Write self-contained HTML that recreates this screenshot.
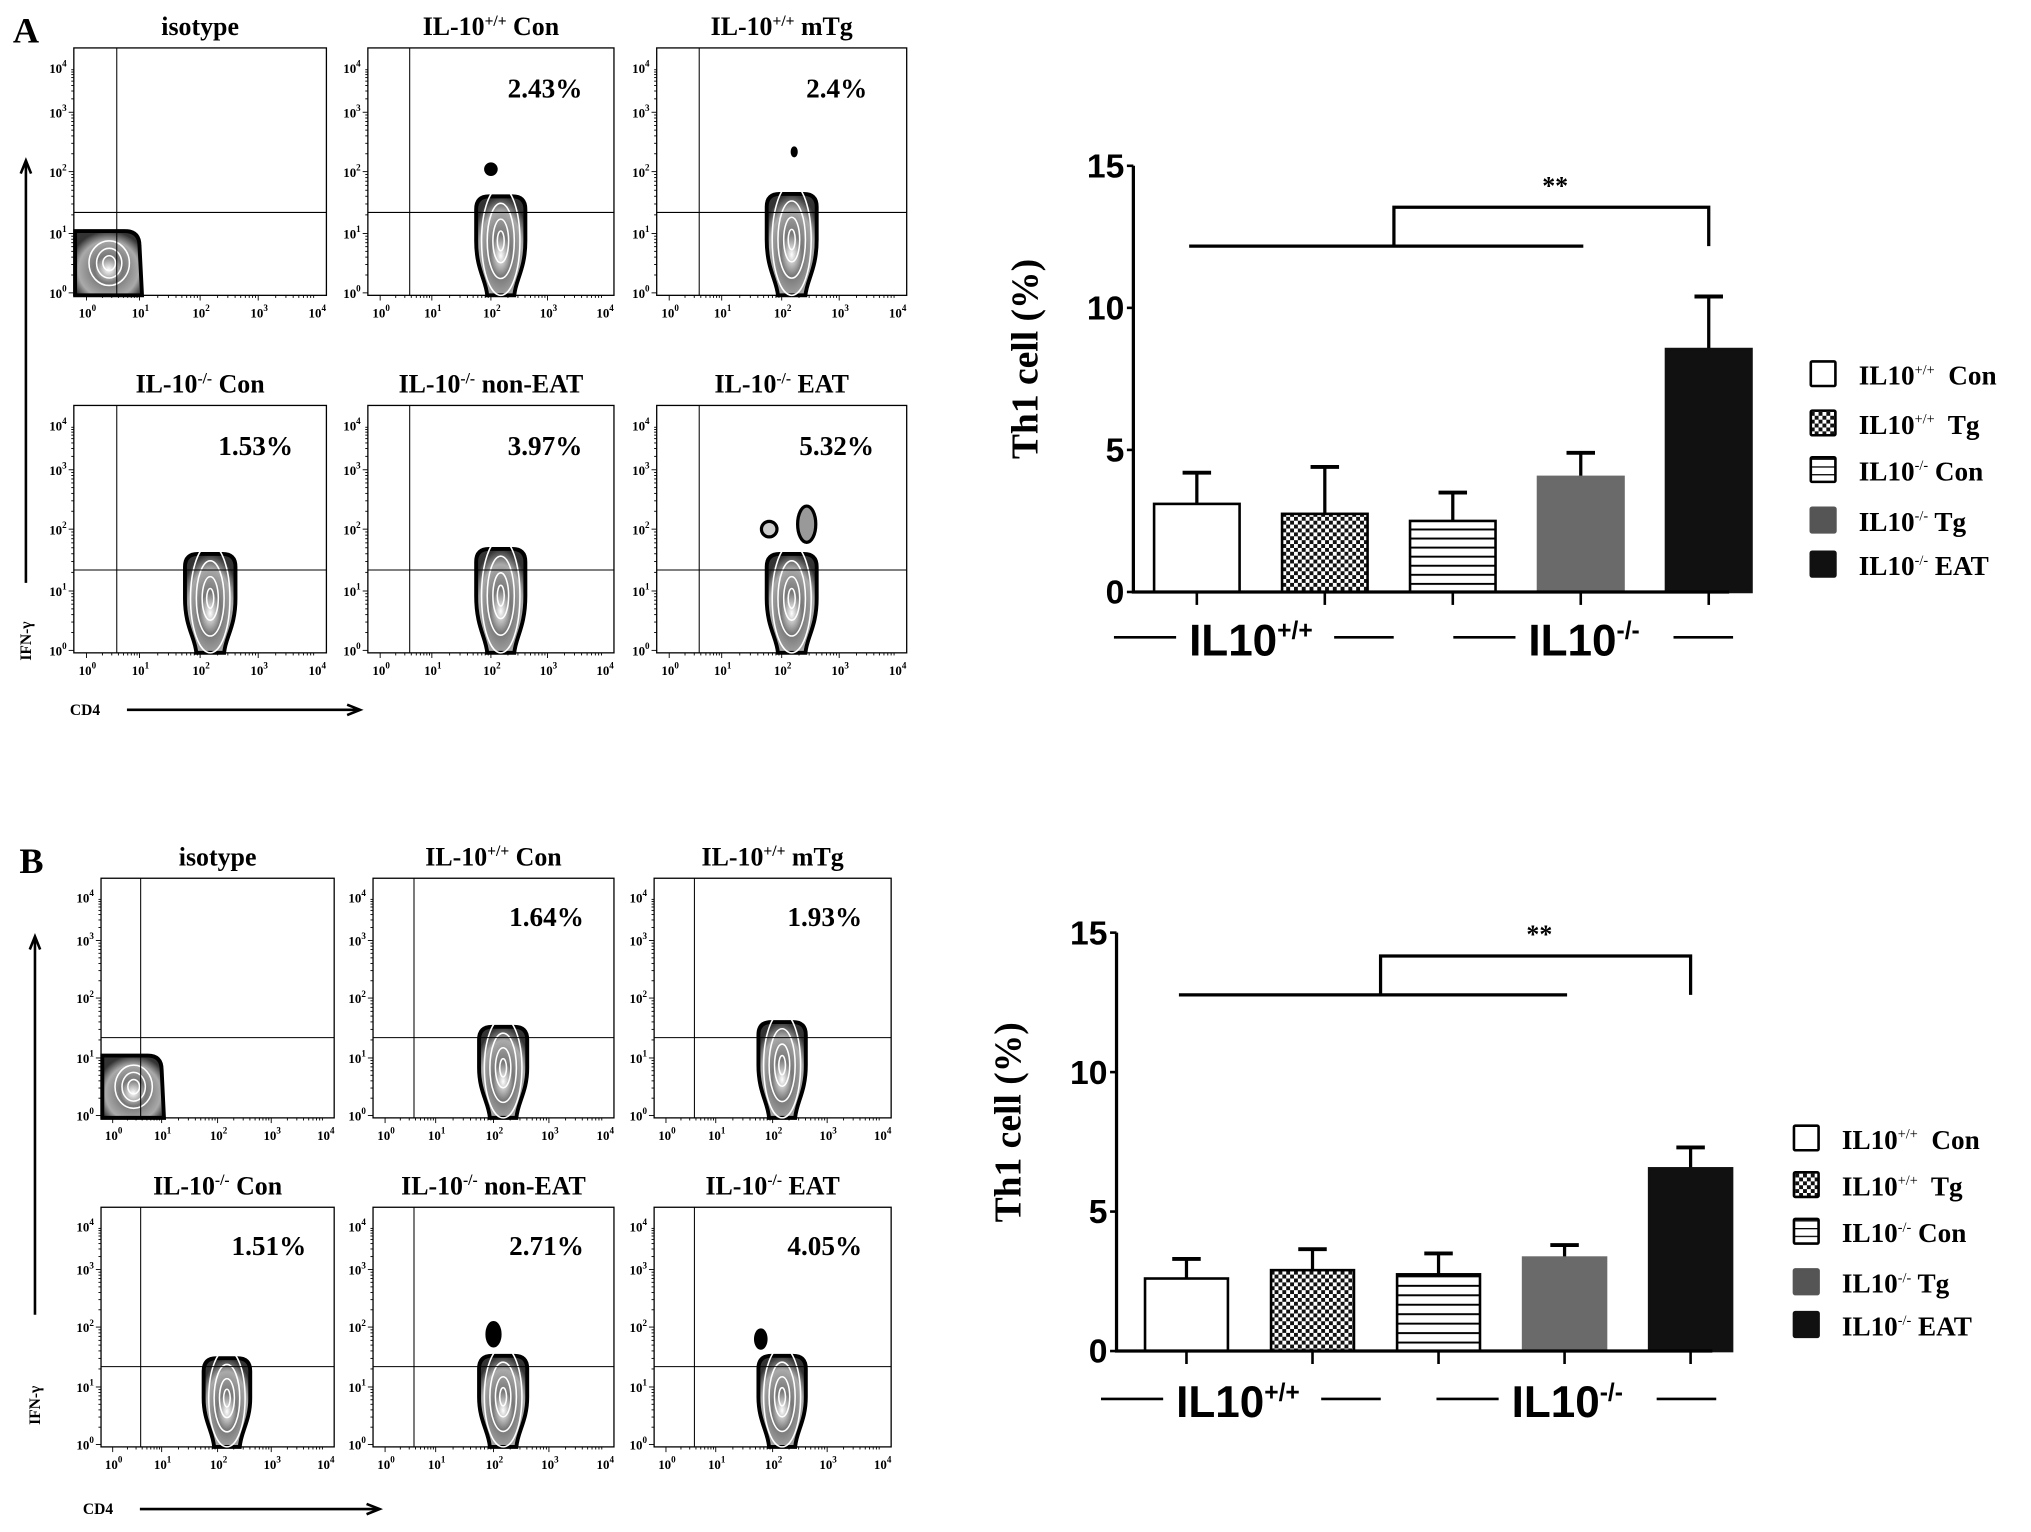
<!DOCTYPE html>
<html><head><meta charset="utf-8"><style>
html,body{margin:0;padding:0;background:#fff;}
svg{display:block;}
text{font-family:"Liberation Serif",serif;font-weight:bold;}
.nar{font-family:"Liberation Sans Narrow","Liberation Sans",sans-serif;font-weight:bold;}
</style></head><body>
<svg id="fig" width="2031" height="1532" viewBox="0 0 1568 1182.7" preserveAspectRatio="none" xmlns="http://www.w3.org/2000/svg">
<defs>
<radialGradient id="blobg" cx="0.5" cy="0.6" r="0.6">
<stop offset="0" stop-color="#fff"/><stop offset="0.35" stop-color="#777"/><stop offset="0.75" stop-color="#aaa"/><stop offset="1" stop-color="#333"/>
</radialGradient>
<pattern id="checkA" width="6" height="6" patternUnits="userSpaceOnUse"><rect width="6" height="6" fill="#fff"/><rect width="3" height="3" fill="#111"/><rect x="3" y="3" width="3" height="3" fill="#111"/></pattern>
</defs>
<text x="10" y="33" font-size="28">A</text>
<text x="15" y="674" font-size="28">B</text>
<g id="flow"></g>
<g id="charts"></g>
</svg>
<script>
// ===== Chart data =====
const categories = ["IL10+/+ Con","IL10+/+ Tg","IL10-/- Con","IL10-/- Tg","IL10-/- EAT"];
const valuesA = [3.1, 2.75, 2.5, 4.05, 8.55];
const errorsA = [4.2, 4.4, 3.5, 4.9, 10.4];
const valuesB = [2.6, 2.9, 2.75, 3.35, 6.55];
const errorsB = [3.3, 3.65, 3.5, 3.8, 7.3];
const yTicks = [0, 5, 10, 15];
const flowTitlesA = ["isotype","IL-10+/+ Con","IL-10+/+ mTg","IL-10-/- Con","IL-10-/- non-EAT","IL-10-/- EAT"];
const flowPctA = ["", "2.43%", "2.4%", "1.53%", "3.97%", "5.32%"];
const flowPctB = ["", "1.64%", "1.93%", "1.51%", "2.71%", "4.05%"];
const logTicks = ["0","1","2","3","4"];

const NS="http://www.w3.org/2000/svg";
function mk(parent,tag,attrs){const e=document.createElementNS(NS,tag);for(const k in attrs)e.setAttribute(k,attrs[k]);parent.appendChild(e);return e;}

const flow=document.getElementById('flow');
function titleText(g,x,y,t){
  const te=mk(g,'text',{x:x,y:y,'font-size':20,'text-anchor':'middle'});
  
  
  const m=t.match(/^IL-10([+\-]\/[+\-])(.*)$/);
  if(m){
    const a=document.createElementNS(NS,'tspan');a.textContent='IL-10';te.appendChild(a);
    const b=document.createElementNS(NS,'tspan');b.textContent=m[1];b.setAttribute('font-size',12);b.setAttribute('dy',-7);te.appendChild(b);
    const c=document.createElementNS(NS,'tspan');c.textContent=m[2];c.setAttribute('dy',7);te.appendChild(c);
  } else te.textContent=t;
}
function blob(g,cx,top,bot,rx,cyf){
  const p=`M${cx-rx*0.55},${bot} C${cx-rx*0.6},${bot-12} ${cx-rx},${bot-20} ${cx-rx},${top+(bot-top)*0.45} L${cx-rx},${top+10} Q${cx-rx},${top} ${cx-rx+10},${top} L${cx+rx-10},${top} Q${cx+rx},${top} ${cx+rx},${top+10} L${cx+rx},${top+(bot-top)*0.45} C${cx+rx},${bot-20} ${cx+rx*0.6},${bot-12} ${cx+rx*0.55},${bot} Z`;
  const b=mk(g,'path',{d:p,fill:'url(#blobg)',stroke:'#000','stroke-width':3});
  
  
  const cy=top+(bot-top)*cyf;
  [[0.78,0.55],[0.55,0.38],[0.32,0.22],[0.14,0.1]].forEach(([fx,fy])=>{
    mk(g,'ellipse',{cx:cx,cy:cy,rx:rx*fx,ry:(bot-top)*fy,fill:'none',stroke:'#fff','stroke-width':1.2});
  });
}
function panel(x,y,w,h,title,pct,kind,extra){
  const g=mk(flow,'g',{});
  
  
  titleText(g,x+w/2,y-10,title);
  const fr=mk(g,'rect',{x:x,y:y,width:w,height:h,fill:'#fff',stroke:'#000','stroke-width':1});
  
  
  const tf=[0.05,0.26,0.5,0.73,0.96], yf=[0.99,0.75,0.5,0.26,0.08];
  logTicks.forEach((t,i)=>{
    const tx=mk(g,'text',{x:x+tf[i]*w-6,y:y+h+17,'font-size':10,'font-weight':'normal'});
    
    
    tx.innerHTML='10<tspan dy="-5" font-size="7">'+t+'</tspan>';
    const ty=mk(g,'text',{x:x-19,y:y+yf[i]*h+4,'font-size':10,'font-weight':'normal'});
    
    
    ty.innerHTML='10<tspan dy="-5" font-size="7">'+t+'</tspan>';
  });
  for(let i=0;i<4;i++)for(let k=1;k<10;k++){
    const f=tf[i]+(tf[i+1]-tf[i])*Math.log10(k);
    mk(g,'line',{x1:x+f*w,x2:x+f*w,y1:y+h,y2:y+h+(k==1?4:2),stroke:'#000','stroke-width':0.7});
    const fy=yf[i]+(yf[i+1]-yf[i])*Math.log10(k);
    mk(g,'line',{x1:x,x2:x-(k==1?4:2),y1:y+fy*h,y2:y+fy*h,stroke:'#000','stroke-width':0.7});
  }
  if(kind==='iso'){
    const p=`M${x+1},${y+h*0.74} L${x+w*0.2},${y+h*0.74} Q${x+w*0.26},${y+h*0.74} ${x+w*0.26},${y+h*0.8} L${x+w*0.27},${y+h} L${x+1},${y+h} Z`;
    const b=mk(g,'path',{d:p,fill:'url(#blobg)',stroke:'#000','stroke-width':3});
    
    
    [[0.08,0.09],[0.05,0.06],[0.025,0.03]].forEach(([fx,fy])=>mk(g,'ellipse',{cx:x+w*0.14,cy:y+h*0.87,rx:w*fx,ry:h*fy,fill:'none',stroke:'#fff','stroke-width':1.2}));
  } else {
    blob(g,x+w*0.54,y+h*(kind.top),y+h,w*0.1,0.45);
  }
  (extra||[]).forEach(e=>{const d=mk(g,'ellipse',{cx:x+w*e[0],cy:y+h*e[1],rx:e[2],ry:e[3],fill:e[4]||'#000',stroke:'#000','stroke-width':2.5});
    
    });
  mk(g,'line',{x1:x+w*0.17,x2:x+w*0.17,y1:y,y2:y+h,stroke:'#000','stroke-width':0.8});
  mk(g,'line',{x1:x,x2:x+w,y1:y+h*0.665,y2:y+h*0.665,stroke:'#000','stroke-width':0.8});
  if(pct){const t=mk(g,'text',{x:x+w*0.72,y:y+h*0.2,'font-size':21,'text-anchor':'middle'});t.textContent=pct;
    
    }
}
// Panel A
const pxA=[57,284,507], pyA=[37,313], wA=[195,190,193], hA=191;
const kindsA=['iso',{top:0.6},{top:0.59},{top:0.6},{top:0.58},{top:0.6}];
const extrasA=[[],[[0.5,0.49,4,4]],[[0.55,0.42,1.5,3]],[],[],[[0.6,0.48,7,14,'#999'],[0.45,0.5,6,6,'#ccc']]];
for(let i=0;i<6;i++) panel(pxA[i%3],pyA[Math.floor(i/3)],wA[i%3],hA,flowTitlesA[i],flowPctA[i],kindsA[i],extrasA[i]);
// Panel B
const pxB=[78,288,505], pyB=[678,932], wB=[180,186,183], hB=185;
const kindsB=['iso',{top:0.62},{top:0.6},{top:0.63},{top:0.62},{top:0.62}];
const extrasB=[[],[],[],[],[[0.5,0.53,5,9]],[[0.45,0.55,4,7]]];
for(let i=0;i<6;i++) panel(pxB[i%3],pyB[Math.floor(i/3)],wB[i%3],hB,flowTitlesA[i],flowPctB[i],kindsB[i],extrasB[i]);

// axis arrows + labels
function arrows(ax,ay1,ay2,labY,cdY,cdX1,cdX2){
  const g=mk(flow,'g',{});
  
  
  mk(g,'line',{x1:ax,x2:ax,y1:ay1,y2:ay2,stroke:'#000','stroke-width':2});
  mk(g,'path',{d:`M${ax-4},${ay2+10} L${ax},${ay2} L${ax+4},${ay2+10}`,fill:'none',stroke:'#000','stroke-width':2});
  const t=mk(g,'text',{x:0,y:0,'font-size':12,transform:`translate(${ax+4},${labY}) rotate(-90)`});t.textContent='IFN-γ';
  mk(g,'line',{x1:cdX1,x2:cdX2,y1:cdY,y2:cdY,stroke:'#000','stroke-width':2});
  mk(g,'path',{d:`M${cdX2-10},${cdY-4} L${cdX2},${cdY} L${cdX2-10},${cdY+4}`,fill:'none',stroke:'#000','stroke-width':2});
  const c=mk(g,'text',{x:cdX1-44,y:cdY+4,'font-size':12});c.textContent='CD4';
}
arrows(20,450,124,510,548,98,278);
arrows(27,1015,723,1100,1165,108,293);

// ===== Bar charts =====
const charts=document.getElementById('charts');
function barChart(o,vals,errs,tag){
  const g=mk(charts,'g',{});
  
  
  const ys=v=>o.y0-(o.y0-o.y15)*v/15;
  const pid='hs'+tag;
  const pat=mk(mk(g,'defs',{}),'pattern',{id:pid,width:8,height:o.stripe,patternUnits:'userSpaceOnUse',y:o.y0});
  mk(pat,'rect',{width:8,height:o.stripe,fill:'#fff'});
  mk(pat,'line',{x1:0,x2:8,y1:0.75,y2:0.75,stroke:'#000','stroke-width':1.5});
  const fills=['#fff','url(#checkA)','url('+'#'+pid+')','#6a6a6a','#111'];
  const strokes=['#000','#000','#000','#6a6a6a','#111'];
  vals.forEach((v,i)=>{
    const cx=o.x0+o.step*i, w=o.bw;
    const er=mk(g,'line',{x1:cx,x2:cx,y1:ys(v),y2:ys(errs[i]),stroke:'#000','stroke-width':2.5});
    
    
    mk(g,'line',{x1:cx-11,x2:cx+11,y1:ys(errs[i]),y2:ys(errs[i]),stroke:'#000','stroke-width':3});
    const r=mk(g,'rect',{x:cx-w/2,y:ys(v),width:w,height:o.y0-ys(v),fill:fills[i],stroke:strokes[i],'stroke-width':2});
    
    
    mk(g,'line',{x1:cx,x2:cx,y1:o.y0,y2:o.y0+10,stroke:'#000','stroke-width':2});
  });
  const ax=mk(g,'path',{d:`M${o.ax},${o.y15} L${o.ax},${o.y0} L${o.xend},${o.y0}`,fill:'none',stroke:'#000','stroke-width':2.5});
  
  
  yTicks.forEach(t=>{
    mk(g,'line',{x1:o.ax-5,x2:o.ax,y1:ys(t),y2:ys(t),stroke:'#000','stroke-width':2});
    const tx=mk(g,'text',{x:o.ax-7,y:ys(t)+9,'font-size':26,'text-anchor':'end','class':'nar'});
    tx.textContent=t;
    
    
  });
  const yl=mk(g,'text',{x:0,y:0,'font-size':29,'text-anchor':'middle',transform:`translate(${o.ax-74},${ys(8.2)}) rotate(-90)`});
  yl.textContent='Th1 cell (%)';
  
  
  // significance
  const c1=o.x0-o.step*0.06, sL=o.x0+o.step*3.02, b0=o.x0+o.step*1.54, b1=o.x0+o.step*4;
  const sig=mk(g,'path',{d:`M${c1},${o.sy} L${sL},${o.sy} M${b0},${o.sy} L${b0},${o.sy-30} L${b1},${o.sy-30} L${b1},${o.sy}`,fill:'none',stroke:'#000','stroke-width':2.5});
  
  
  const st=mk(g,'text',{x:o.x0+o.step*2.8,y:o.sy-40,'font-size':20,'font-weight':'normal','text-anchor':'middle'});st.textContent='**';
  
  
  // group labels
  const groups=[['+/+',o.gx[0]],['-/-',o.gx[1]]];
  groups.forEach(([s,gx])=>{
    const gg=mk(g,'g',{});
    
    
    mk(gg,'line',{x1:gx-58,x2:gx-10,y1:o.gy-8,y2:o.gy-8,stroke:'#000','stroke-width':2});
    const t=mk(gg,'text',{x:gx,y:o.gy+6,'font-size':34,'class':'nar'});
    t.innerHTML='IL10<tspan dy="-13" font-size="19">'+s+'</tspan>';
    mk(gg,'line',{x1:gx+112,x2:gx+158,y1:o.gy-8,y2:o.gy-8,stroke:'#000','stroke-width':2});
  });
  // legend
  const lf=['#fff','url(#checkA)','url('+'#'+pid+'L)','#555','#111'];
  const lp=mk(g,'pattern',{id:pid+'L',width:8,height:6,patternUnits:'userSpaceOnUse',y:o.ly[2]-9});
  mk(lp,'rect',{width:8,height:6,fill:'#fff'});
  mk(lp,'line',{x1:0,x2:8,y1:0,y2:0,stroke:'#000','stroke-width':2});
  const sups=['+/+','+/+','-/-','-/-','-/-'], sfx=['\u00a0 Con','\u00a0 Tg',' Con',' Tg',' EAT'];
  categories.forEach((c,i)=>{
    const lg=mk(g,'g',{});
    
    
    mk(lg,'rect',{x:o.lx,y:o.ly[i]-10,width:19,height:19,fill:lf[i],stroke:(i>2?lf[i]:'#000'),'stroke-width':2,rx:1});
    const t=mk(lg,'text',{x:o.lx+37,y:o.ly[i]+8,'font-size':21});
    t.innerHTML='IL10<tspan dy="-8" font-size="11" font-weight="normal">'+sups[i]+'</tspan><tspan dy="8">'+sfx[i]+'</tspan>';
  });
}
barChart({ax:875,y0:457,y15:128,xend:1335,x0:924,step:98.8,bw:66,stripe:7,sy:190,gx:[918,1180],gy:500,lx:1398,ly:[289,327,363,402,436]},valuesA,errorsA,'a');
barChart({ax:862,y0:1043,y15:720,xend:1322,x0:916,step:97.3,bw:64,stripe:7.3,sy:768,gx:[908,1167],gy:1088,lx:1385,ly:[879,915,951,990,1023]},valuesB,errorsB,'b');
</script>
</body></html>
